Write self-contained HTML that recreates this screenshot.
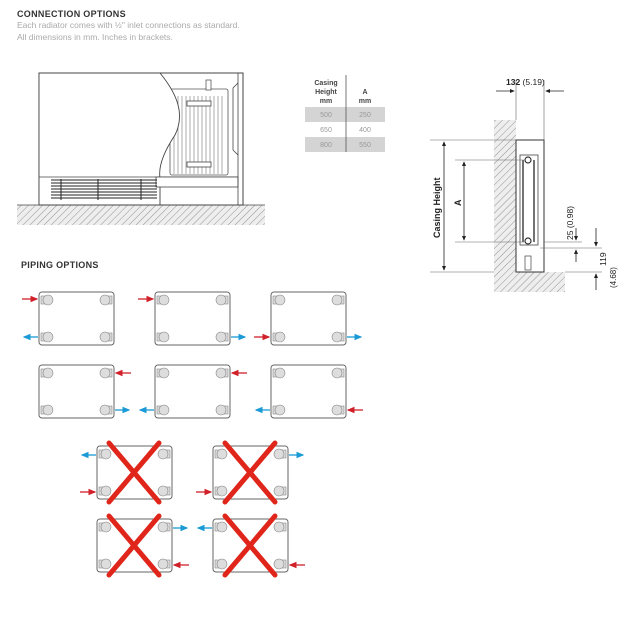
<!DOCTYPE html>
<html><head><meta charset="utf-8"><style>
html,body{margin:0;padding:0;background:#fff;}
svg{display:block;font-family:"Liberation Sans",sans-serif;}
</style></head><body>
<svg width="643" height="643" viewBox="0 0 643 643" xmlns="http://www.w3.org/2000/svg">
<defs>
<pattern id="h" width="5" height="5" patternUnits="userSpaceOnUse" patternTransform="rotate(45)">
<rect width="5" height="5" fill="#eeeeee"/><line x1="0" y1="0" x2="0" y2="5" stroke="#888" stroke-width="0.9"/></pattern>
<marker id="ar" markerWidth="6" markerHeight="6" refX="5" refY="3" orient="auto"><path d="M0,0.5 L6,3 L0,5.5z" fill="#d0202a"/></marker>
<marker id="ab" markerWidth="6" markerHeight="6" refX="5" refY="3" orient="auto"><path d="M0,0.5 L6,3 L0,5.5z" fill="#1a9ad6"/></marker>
<marker id="ak" markerWidth="6" markerHeight="6" refX="5" refY="3" orient="auto"><path d="M0,0.5 L6,3 L0,5.5z" fill="#222"/></marker>
<g id="rad">
<rect x="0" y="0" width="75" height="53" rx="3" fill="#fff" stroke="#666" stroke-width="1"/>
<rect x="2" y="4" width="4" height="8" fill="#ddd" stroke="#888" stroke-width="0.6"/>
<circle cx="9" cy="8" r="5" fill="#ddd" stroke="#888" stroke-width="0.6"/>
<rect x="69" y="4" width="4" height="8" fill="#ddd" stroke="#888" stroke-width="0.6"/>
<circle cx="66" cy="8" r="5" fill="#ddd" stroke="#888" stroke-width="0.6"/>
<rect x="2" y="41" width="4" height="8" fill="#ddd" stroke="#888" stroke-width="0.6"/>
<circle cx="9" cy="45" r="5" fill="#ddd" stroke="#888" stroke-width="0.6"/>
<rect x="69" y="41" width="4" height="8" fill="#ddd" stroke="#888" stroke-width="0.6"/>
<circle cx="66" cy="45" r="5" fill="#ddd" stroke="#888" stroke-width="0.6"/>
</g>
<g id="x"><line x1="12" y1="-3" x2="62" y2="56" stroke="#e0261b" stroke-width="5" stroke-linecap="round"/><line x1="62" y1="-3" x2="12" y2="56" stroke="#e0261b" stroke-width="5" stroke-linecap="round"/></g>
</defs>

<text x="17" y="17" font-size="9" font-weight="bold" fill="#333" letter-spacing="0.3">CONNECTION OPTIONS</text>
<text x="17" y="28" font-size="8.5" fill="#aaa">Each radiator comes with ½" inlet connections as standard.</text>
<text x="17" y="40" font-size="8.5" fill="#aaa">All dimensions in mm. Inches in brackets.</text>

<!-- left drawing -->
<rect x="17" y="205" width="248" height="20" fill="url(#h)"/>
<line x1="17" y1="205" x2="265" y2="205" stroke="#444" stroke-width="0.8"/>
<rect x="39" y="73" width="204" height="132" fill="#fff" stroke="#444" stroke-width="1"/>
<rect x="170" y="89" width="58" height="86" rx="2" fill="#fff" stroke="#555" stroke-width="0.8"/>
<g stroke="#777" stroke-width="0.6">
<line x1="174" y1="96" x2="174" y2="174"/><line x1="178" y1="96" x2="178" y2="174"/><line x1="182" y1="96" x2="182" y2="174"/><line x1="186" y1="96" x2="186" y2="174"/><line x1="190" y1="96" x2="190" y2="174"/><line x1="194" y1="96" x2="194" y2="174"/><line x1="198" y1="96" x2="198" y2="174"/><line x1="202" y1="96" x2="202" y2="174"/><line x1="206" y1="96" x2="206" y2="174"/><line x1="210" y1="96" x2="210" y2="174"/><line x1="214" y1="96" x2="214" y2="174"/><line x1="218" y1="96" x2="218" y2="174"/><line x1="222" y1="96" x2="222" y2="174"/>
</g>
<rect x="187" y="101" width="24" height="5" fill="#fff" stroke="#444" stroke-width="0.8"/>
<rect x="187" y="162" width="24" height="5" fill="#fff" stroke="#444" stroke-width="0.8"/>
<rect x="206" y="80" width="5" height="10" fill="#fff" stroke="#444" stroke-width="0.7"/>
<path d="M39,73 L160,73 C178,95 185,115 175,135 C165,150 158,165 160,178 L160,205 L39,205 Z" fill="#fff" stroke="#444" stroke-width="0.9"/>
<line x1="39" y1="177" x2="238" y2="177" stroke="#444" stroke-width="0.8"/>
<rect x="156" y="177" width="82" height="10" fill="#fff" stroke="#444" stroke-width="0.8"/>
<path d="M238,73 L238,205 M243,73 L243,205 M238,83 L233,88 L233,150 L238,155" fill="none" stroke="#444" stroke-width="0.8"/>
<g stroke="#222" stroke-width="1">
<line x1="51" y1="180" x2="157" y2="180"/><line x1="51" y1="183" x2="157" y2="183"/><line x1="51" y1="186" x2="157" y2="186"/><line x1="51" y1="189" x2="157" y2="189"/><line x1="51" y1="192" x2="157" y2="192"/><line x1="51" y1="195" x2="157" y2="195"/><line x1="51" y1="198" x2="157" y2="198"/>
<line x1="61" y1="179" x2="61" y2="200"/><line x1="98" y1="179" x2="98" y2="200"/><line x1="141" y1="179" x2="141" y2="200"/>
</g>

<!-- table -->
<rect x="305" y="107" width="80" height="15" fill="#d4d4d4"/>
<rect x="305" y="137" width="80" height="15" fill="#d4d4d4"/>
<line x1="346" y1="75" x2="346" y2="152" stroke="#555" stroke-width="0.8"/>
<g font-size="7" font-weight="bold" fill="#444" text-anchor="middle">
<text x="326" y="85">Casing</text><text x="326" y="94">Height</text><text x="326" y="103">mm</text>
<text x="365" y="94">A</text><text x="365" y="103">mm</text></g>
<g font-size="7" fill="#999" text-anchor="middle">
<text x="326" y="117">500</text><text x="365" y="117">250</text>
<text x="326" y="132">650</text><text x="365" y="132">400</text>
<text x="326" y="147">800</text><text x="365" y="147">550</text></g>

<!-- right drawing -->
<rect x="494" y="120" width="22" height="172" fill="url(#h)"/>
<rect x="494" y="272" width="71" height="20" fill="url(#h)"/>
<rect x="516" y="140" width="28" height="132" fill="#fff" stroke="#333" stroke-width="1"/>
<rect x="520" y="155" width="18" height="90" fill="#fff" stroke="#444" stroke-width="0.8"/>
<line x1="523" y1="160" x2="523" y2="242" stroke="#444" stroke-width="1.5"/>
<line x1="534" y1="160" x2="534" y2="242" stroke="#444" stroke-width="1.5"/>
<circle cx="528" cy="160" r="3" fill="#fff" stroke="#333" stroke-width="1.2"/>
<circle cx="528" cy="241" r="3" fill="#fff" stroke="#333" stroke-width="1.2"/>
<rect x="525" y="256" width="6" height="14" fill="#fff" stroke="#444" stroke-width="0.7"/>
<g stroke="#666" stroke-width="0.6" fill="none">
<line x1="430" y1="140" x2="516" y2="140"/><line x1="430" y1="272" x2="494" y2="272"/>
<line x1="455" y1="160" x2="524" y2="160"/><line x1="455" y1="242" x2="524" y2="242"/>
<line x1="516" y1="80" x2="516" y2="120"/><line x1="544" y1="80" x2="544" y2="140"/>
<line x1="540" y1="248" x2="602" y2="248"/><line x1="565" y1="272" x2="602" y2="272"/>
<line x1="544" y1="242" x2="582" y2="242"/>
</g>
<g stroke="#222" stroke-width="0.8">
<line x1="496" y1="91" x2="514" y2="91" marker-end="url(#ak)"/>
<line x1="564" y1="91" x2="546" y2="91" marker-end="url(#ak)"/>
<line x1="444" y1="205" x2="444" y2="142" marker-end="url(#ak)"/>
<line x1="444" y1="205" x2="444" y2="270" marker-end="url(#ak)"/>
<line x1="464" y1="200" x2="464" y2="162" marker-end="url(#ak)"/>
<line x1="464" y1="200" x2="464" y2="240" marker-end="url(#ak)"/>
<line x1="576" y1="228" x2="576" y2="240" marker-end="url(#ak)"/>
<line x1="576" y1="262" x2="576" y2="250" marker-end="url(#ak)"/>
<line x1="596" y1="228" x2="596" y2="246" marker-end="url(#ak)"/>
<line x1="596" y1="290" x2="596" y2="274" marker-end="url(#ak)"/>
</g>
<text x="506" y="85" font-size="8.5" fill="#222"><tspan font-weight="bold">132</tspan> (5.19)</text>
<text transform="translate(440,238) rotate(-90)" font-size="9" font-weight="bold" fill="#222">Casing Height</text>
<text transform="translate(461,206) rotate(-90)" font-size="9" font-weight="bold" fill="#222">A</text>
<text transform="translate(573,240) rotate(-90)" font-size="8.5" fill="#222">25 (0.98)</text>
<text transform="translate(606,266) rotate(-90)" font-size="8.5" fill="#222">119</text>
<text transform="translate(616,288) rotate(-90)" font-size="8" fill="#222">(4.68)</text>

<text x="21" y="268" font-size="9" font-weight="bold" fill="#333" letter-spacing="0.3">PIPING OPTIONS</text>

<use href="#rad" x="39" y="292"/><use href="#rad" x="155" y="292"/><use href="#rad" x="271" y="292"/>
<use href="#rad" x="39" y="365"/><use href="#rad" x="155" y="365"/><use href="#rad" x="271" y="365"/>
<use href="#rad" x="97" y="446"/><use href="#rad" x="213" y="446"/>
<use href="#rad" x="97" y="519"/><use href="#rad" x="213" y="519"/>
<use href="#x" x="97" y="446"/><use href="#x" x="213" y="446"/>
<use href="#x" x="97" y="519"/><use href="#x" x="213" y="519"/>

<g stroke-width="1.3">
<line x1="22" y1="299" x2="37" y2="299" stroke="#d0202a" marker-end="url(#ar)"/>
<line x1="38" y1="337" x2="24" y2="337" stroke="#1a9ad6" marker-end="url(#ab)"/>
<line x1="138" y1="299" x2="153" y2="299" stroke="#d0202a" marker-end="url(#ar)"/>
<line x1="231" y1="337" x2="245" y2="337" stroke="#1a9ad6" marker-end="url(#ab)"/>
<line x1="254" y1="337" x2="269" y2="337" stroke="#d0202a" marker-end="url(#ar)"/>
<line x1="347" y1="337" x2="361" y2="337" stroke="#1a9ad6" marker-end="url(#ab)"/>

<line x1="131" y1="373" x2="116" y2="373" stroke="#d0202a" marker-end="url(#ar)"/>
<line x1="115" y1="410" x2="129" y2="410" stroke="#1a9ad6" marker-end="url(#ab)"/>
<line x1="247" y1="373" x2="232" y2="373" stroke="#d0202a" marker-end="url(#ar)"/>
<line x1="154" y1="410" x2="140" y2="410" stroke="#1a9ad6" marker-end="url(#ab)"/>
<line x1="270" y1="410" x2="256" y2="410" stroke="#1a9ad6" marker-end="url(#ab)"/>
<line x1="363" y1="410" x2="348" y2="410" stroke="#d0202a" marker-end="url(#ar)"/>

<line x1="96" y1="455" x2="82" y2="455" stroke="#1a9ad6" marker-end="url(#ab)"/>
<line x1="80" y1="492" x2="95" y2="492" stroke="#d0202a" marker-end="url(#ar)"/>
<line x1="289" y1="455" x2="303" y2="455" stroke="#1a9ad6" marker-end="url(#ab)"/>
<line x1="196" y1="492" x2="211" y2="492" stroke="#d0202a" marker-end="url(#ar)"/>
<line x1="173" y1="528" x2="187" y2="528" stroke="#1a9ad6" marker-end="url(#ab)"/>
<line x1="189" y1="565" x2="174" y2="565" stroke="#d0202a" marker-end="url(#ar)"/>
<line x1="212" y1="528" x2="198" y2="528" stroke="#1a9ad6" marker-end="url(#ab)"/>
<line x1="305" y1="565" x2="290" y2="565" stroke="#d0202a" marker-end="url(#ar)"/>
</g>
</svg>
</body></html>
